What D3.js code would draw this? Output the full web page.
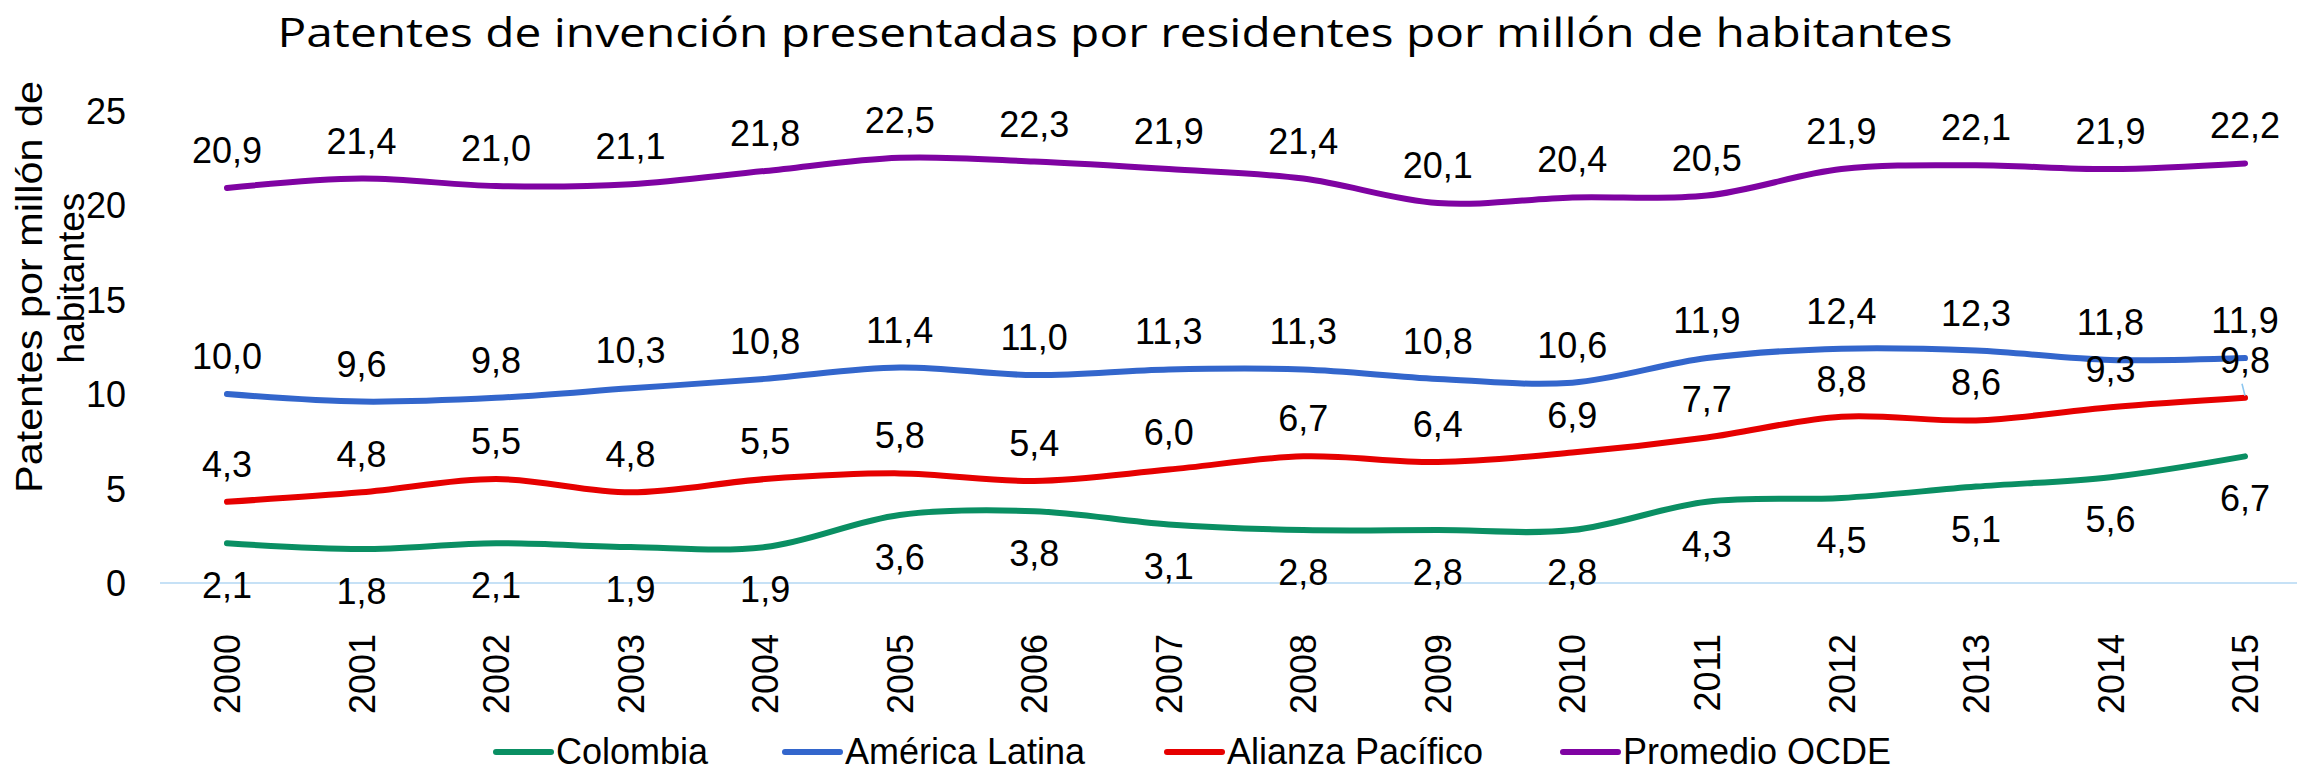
<!DOCTYPE html>
<html>
<head>
<meta charset="utf-8">
<script src="https://cdn.jsdelivr.net/npm/d3@7"></script>
<style>
  html, body { margin: 0; padding: 0; background: #ffffff; }
  svg { display: block; }
  text { font-family: "Liberation Sans", Arial, sans-serif; fill: #000; }
</style>
</head>
<body>
<svg id="chart" width="2297" height="772"></svg>
<script>
// ---- Data ----
const years = ["2000","2001","2002","2003","2004","2005","2006","2007","2008","2009","2010","2011","2012","2013","2014","2015"];
const colombia = [2.1,1.8,2.1,1.9,1.9,3.6,3.8,3.1,2.8,2.8,2.8,4.3,4.5,5.1,5.6,6.7];
const americaLatina = [10.0,9.6,9.8,10.3,10.8,11.4,11.0,11.3,11.3,10.8,10.6,11.9,12.4,12.3,11.8,11.9];
const alianzaPacifico = [4.3,4.8,5.5,4.8,5.5,5.8,5.4,6.0,6.7,6.4,6.9,7.7,8.8,8.6,9.3,9.8];
const promedioOCDE = [20.9,21.4,21.0,21.1,21.8,22.5,22.3,21.9,21.4,20.1,20.4,20.5,21.9,22.1,21.9,22.2];
const seriesNames = ["Colombia","América Latina","Alianza Pacífico","Promedio OCDE"];
const yTicks = [0,5,10,15,20,25];
const titleText = "Patentes de invención presentadas por residentes por millón de habitantes";
const yTitleLines = ["Patentes por millón de","habitantes"];

const colors = ["#0a8f63","#3366cc","#e60000","#7f03a2"];
const labelBelow = [true,false,false,false];
const seriesValues = [colombia, americaLatina, alianzaPacifico, promedioOCDE];
const series = seriesNames.map((n,i)=>({name:n, values:seriesValues[i], color:colors[i], below:labelBelow[i]}));

const svg = d3.select("#chart");
const x = d3.scalePoint().domain(years).range([227, 2245]);
const y = d3.scaleLinear().domain([0,25]).range([583, 110.5]);
const fmt = v => d3.format(".1f")(v).replace(".", ",");

// Title
svg.append("text")
  .attr("x", 1115).attr("y", 47)
  .attr("text-anchor","middle")
  .attr("textLength", 1675).attr("lengthAdjust","spacingAndGlyphs")
  .style("font-family","'Open Sans', 'Noto Sans', sans-serif")
  .style("font-size","40px")
  .text(titleText);

// Y axis title
svg.append("text")
  .attr("transform","translate(42,287) rotate(-90)")
  .attr("text-anchor","middle")
  .attr("textLength", 412).attr("lengthAdjust","spacingAndGlyphs")
  .style("font-size","37px")
  .text(yTitleLines[0]);
svg.append("text")
  .attr("transform","translate(84,278) rotate(-90)")
  .attr("text-anchor","middle")
  .style("font-size","37px")
  .text(yTitleLines[1]);

// Y axis (labels only)
const yAxis = d3.axisLeft(y).tickValues(yTicks).tickSize(0).tickPadding(0).tickFormat(d3.format("d"));
const gy = svg.append("g").attr("transform","translate(126,0)").call(yAxis);
gy.select(".domain").remove();
gy.selectAll("text").style("font-size","36px").style("font-family","'Liberation Sans', Arial, sans-serif").attr("fill","#000").attr("dy","0.35em");

// Zero line
svg.append("line")
  .attr("x1",160).attr("x2",2297)
  .attr("y1",y(0)).attr("y2",y(0))
  .attr("stroke","#c6e1f6").attr("stroke-width",2);

// X axis
const xAxis = d3.axisBottom(x).tickSize(0).tickPadding(0);
const gx = svg.append("g").attr("transform",`translate(0,${y(0)})`).call(xAxis);
gx.select(".domain").remove();
gx.selectAll("text")
  .style("font-size","36px").style("font-family","'Liberation Sans', Arial, sans-serif").attr("fill","#000")
  .attr("text-anchor","end")
  .attr("transform","rotate(-90)")
  .attr("x",-51).attr("y",0).attr("dy","0.35em");

// Lines
const line = d3.line()
  .x((d,i)=>x(years[i]))
  .y(d=>y(d))
  .curve(d3.curveCatmullRom.alpha(0.5));

svg.selectAll("path.series")
  .data(series)
  .join("path")
  .attr("class","series")
  .attr("d", s=>line(s.values))
  .attr("fill","none")
  .attr("stroke", s=>s.color)
  .attr("stroke-width",6)
  .attr("stroke-linecap","round")
  .attr("stroke-linejoin","round");

// Leader line for last Alianza label
svg.append("line")
  .attr("x1", x("2015")-3).attr("y1", y(alianzaPacifico[15])-14)
  .attr("x2", x("2015")).attr("y2", y(alianzaPacifico[15])-2)
  .attr("stroke","#8cc6f0").attr("stroke-width",1.5);

// Data labels
series.forEach(s=>{
  svg.append("g").selectAll("text")
    .data(s.values)
    .join("text")
    .attr("x",(d,i)=>x(years[i]))
    .attr("y",d=> s.below ? y(d)+55 : y(d)-25)
    .attr("text-anchor","middle")
    .style("font-size","36px")
    .text(d=>fmt(d));
});

// Legend
const legendPos = [496, 785, 1167, 1563];
const lg = svg.append("g");
series.forEach((s,i)=>{
  lg.append("line")
    .attr("x1",legendPos[i]).attr("x2",legendPos[i]+55)
    .attr("y1",752).attr("y2",752)
    .attr("stroke",s.color).attr("stroke-width",6).attr("stroke-linecap","round");
  lg.append("text")
    .attr("x",legendPos[i]+60).attr("y",764)
    .style("font-size","36px")
    .text(s.name);
});
</script>
</body>
</html>
